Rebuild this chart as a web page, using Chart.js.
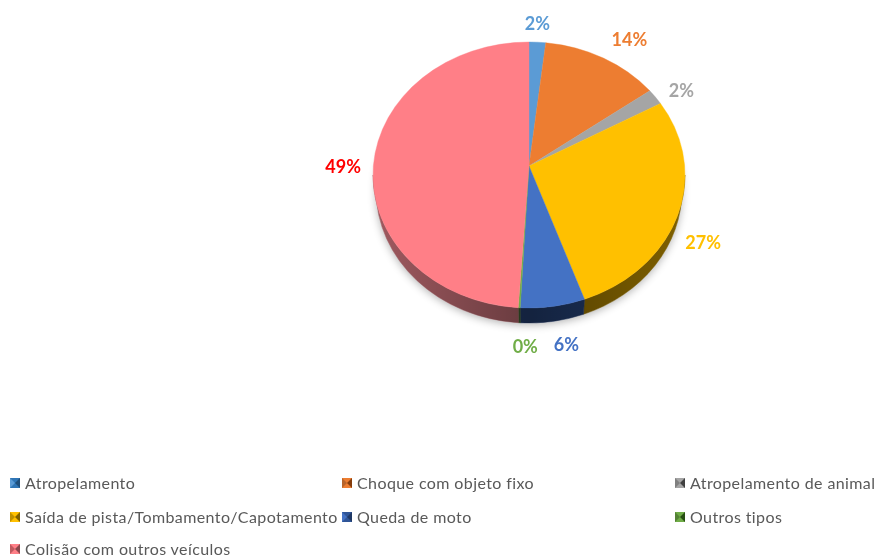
<!DOCTYPE html>
<html lang="pt">
<head>
<meta charset="utf-8">
<title>Tipos de acidente</title>
<script src="https://cdn.jsdelivr.net/npm/chart.js@4"></script>
<style>
    html, body { margin: 0; background: #fff; }
    #wrap { position: relative; width: 878px; height: 557px; overflow: hidden; }
    #myChart { position: absolute; left: 0; top: 0; }
    .item {
        position: absolute; height: 20px; line-height: 20px; white-space: nowrap;
        font-family: Lato, sans-serif; font-size: 16px; color: #595959; letter-spacing: 0.4px;
    }
    .icon {
        position: absolute; left: -15px; top: 5px; width: 0; height: 0;
        border-style: solid; border-width: 5px 5.5px;
    }
</style>
</head>
<body>
<div id="wrap">
    <canvas id="myChart" width="878" height="557"></canvas>
    <div id="legenda"></div>
</div>
<script>
var categorias = ['Atropelamento', 'Choque com objeto fixo', 'Atropelamento de animal',
    'Saída de pista/Tombamento/Capotamento', 'Queda de moto', 'Outros tipos', 'Colisão com outros veículos'];
var valores = [2, 14, 2, 27, 6, 0.2, 49];

var cores = ['#5b9bd5', '#ed7d31', '#a5a5a5', '#ffc000', '#4472c4', '#70ad47', '#ff7f87'];
var coresLateral = ['#2f5272', '#7a4018', '#555555', '#7f6000', '#1e3560', '#38572a', '#a05a60'];
var coresTexto = ['#5b9bd5', '#ed7d31', '#a5a5a5', '#ffc000', '#4472c4', '#70ad47', '#ff0000'];

// ajuste fino dos rotulos em relacao a borda da fatia
var desvioRotulo = [[0, -18], [27, -17], [26, -6], [24, 32], [14, 39], [6, 39], [-30, -3]];

var achatamento = 133 / 156;
var profundidade = 15;
var estreitamento = 3;
var subidaCentro = 9;
var perspectiva = 8 * Math.PI / 180;

// a parte de tras do disco aparece comprimida no lado direito
function angulo(a) {
    var t = a + Math.PI / 2;
    if (t > Math.PI) return a;
    return t - perspectiva * Math.sin(t) - Math.PI / 2;
}

var pizza3d = {
    id: 'pizza3d',
    beforeDatasetDraw: function(chart, args) {
        var ctx = chart.ctx;
        var arcos = chart.getDatasetMeta(args.index).data;
        var cx = arcos[0].x, cy = arcos[0].y;
        var rx = arcos[0].outerRadius, ry = rx * achatamento;
        var rxBaixo = rx - estreitamento;

        // sombra por baixo do disco
        ctx.save();
        ctx.shadowColor = 'rgba(0,0,0,0.3)';
        ctx.shadowBlur = 9;
        ctx.shadowOffsetY = 3;
        ctx.fillStyle = '#ffffff';
        ctx.beginPath();
        ctx.ellipse(cx, cy + profundidade - 1, rxBaixo, ry, 0, 0, Math.PI * 2);
        ctx.fill();
        ctx.restore();

        // lateral
        arcos.forEach(function(arco, i) {
            var a0 = Math.max(angulo(arco.startAngle), 0);
            var a1 = Math.min(angulo(arco.endAngle), Math.PI);
            if (a1 <= a0) return;
            ctx.beginPath();
            ctx.ellipse(cx, cy, rx, ry, 0, a0, a1);
            ctx.ellipse(cx, cy + profundidade, rxBaixo, ry, 0, a1, a0, true);
            ctx.closePath();
            ctx.fillStyle = coresLateral[i];
            ctx.fill();
            ctx.strokeStyle = coresLateral[i];
            ctx.lineWidth = 0.5;
            ctx.stroke();
        });

        // escurece a lateral em direcao ao centro
        ctx.save();
        ctx.beginPath();
        ctx.ellipse(cx, cy, rx, ry, 0, 0, Math.PI);
        ctx.ellipse(cx, cy + profundidade, rxBaixo, ry, 0, Math.PI, 0, true);
        ctx.closePath();
        var sombra = ctx.createLinearGradient(cx - rx, 0, cx + rx, 0);
        sombra.addColorStop(0, 'rgba(0,0,0,0)');
        sombra.addColorStop(0.5, 'rgba(0,0,0,0.35)');
        sombra.addColorStop(1, 'rgba(0,0,0,0)');
        ctx.fillStyle = sombra;
        ctx.fill();
        ctx.restore();

        // face de cima, com o vertice um pouco acima do centro
        arcos.forEach(function(arco, i) {
            var a0 = angulo(arco.startAngle), a1 = angulo(arco.endAngle);
            ctx.beginPath();
            ctx.moveTo(cx, cy - subidaCentro);
            ctx.ellipse(cx, cy, rx, ry, 0, a0, a1);
            ctx.closePath();
            ctx.fillStyle = cores[i];
            ctx.fill();
            ctx.strokeStyle = cores[i];
            ctx.lineWidth = 0.4;
            ctx.stroke();
        });

        // rotulos
        ctx.font = 'bold 18px Lato, sans-serif';
        ctx.textAlign = 'center';
        ctx.textBaseline = 'middle';
        arcos.forEach(function(arco, i) {
            var meio = angulo((arco.startAngle + arco.endAngle) / 2);
            var x = cx + rx * Math.cos(meio) + desvioRotulo[i][0];
            var y = cy + ry * Math.sin(meio) + desvioRotulo[i][1];
            ctx.fillStyle = coresTexto[i];
            ctx.fillText(Math.round(valores[i]) + '%', x, y);
        });
        return false;
    }
};

var ctx = document.getElementById('myChart');
var myChart = new Chart(ctx, {
    type: 'pie',
    data: {
        labels: categorias,
        datasets: [{
            data: valores,
            backgroundColor: cores,
            borderWidth: 0
        }]
    },
    options: {
        responsive: false,
        animation: false,
        layout: { padding: { left: 373, right: 193, top: 19, bottom: 226 } },
        plugins: { legend: { display: false }, tooltip: { enabled: false } }
    },
    plugins: [pizza3d]
});

// legenda em tres colunas
var colunasX = [25, 357, 690];
var linhasY = [473, 507, 539];
var coresIcone = [
    ['#2f75b5', '#5b9bd5', '#1f4e79'],
    ['#ed7d31', '#b8642a', '#843c0c'],
    ['#a5a5a5', '#7f7f7f', '#404040'],
    ['#ffc000', '#bf9000', '#7f6000'],
    ['#2f5597', '#4472c4', '#1f3864'],
    ['#70ad47', '#548235', '#274e13'],
    ['#ff7f87', '#c05a60', '#8a474c']
];
var legenda = document.getElementById('legenda');
categorias.forEach(function(nome, i) {
    var item = document.createElement('div');
    item.className = 'item';
    item.style.left = colunasX[i % 3] + 'px';
    item.style.top = linhasY[Math.floor(i / 3)] + 'px';
    var icone = document.createElement('span');
    icone.className = 'icon';
    var c = coresIcone[i];
    icone.style.borderColor = c[0] + ' ' + c[2] + ' ' + c[0] + ' ' + c[1];
    item.appendChild(icone);
    item.appendChild(document.createTextNode(nome));
    legenda.appendChild(item);
});
</script>
</body>
</html>
